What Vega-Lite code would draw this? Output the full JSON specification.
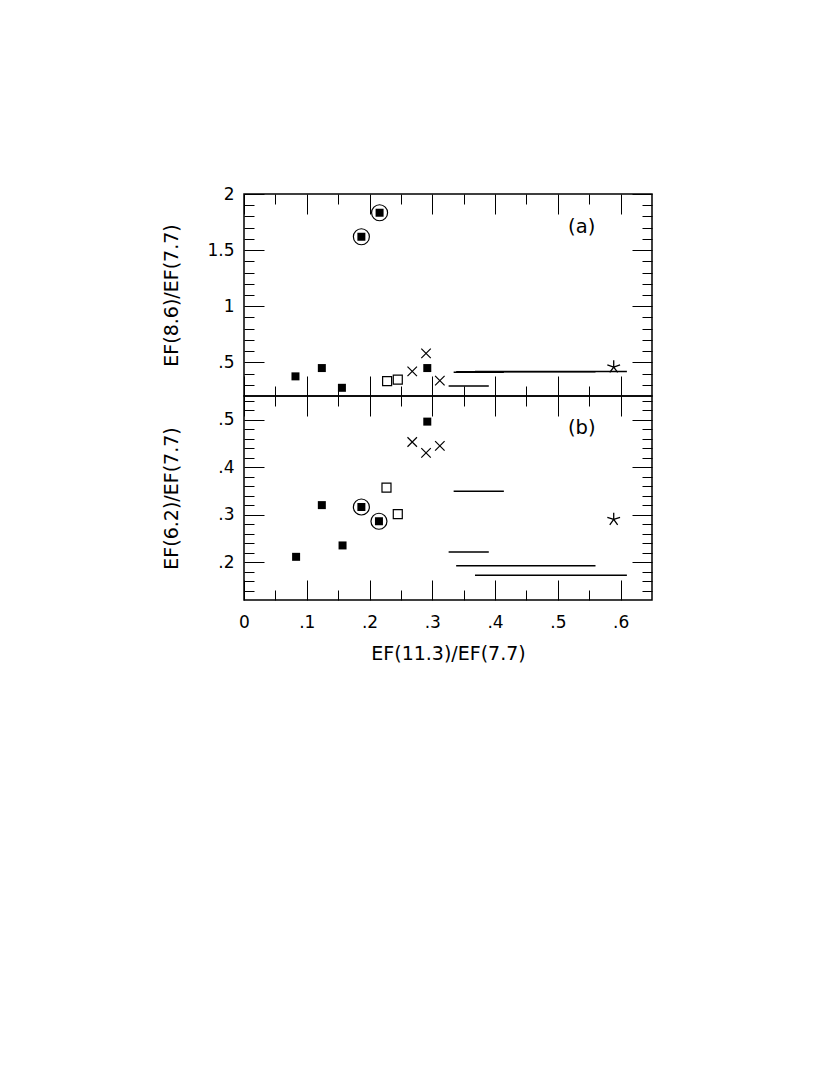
{
  "$schema": "https://vega.github.io/schema/vega-lite/v6.json",
  "padding": {"left": 161, "top": 184, "right": 5, "bottom": 5},
  "spacing": 0,
  "bounds": "flush",
  "datasets": {
    "pa": [
      {"kind": "filled", "x": 0.082, "y": 0.375},
      {"kind": "filled", "x": 0.124, "y": 0.449},
      {"kind": "filled", "x": 0.156, "y": 0.273},
      {"kind": "filled", "x": 0.292, "y": 0.449},
      {"kind": "circled", "x": 0.187, "y": 1.619},
      {"kind": "circled", "x": 0.216, "y": 1.833},
      {"kind": "open", "x": 0.228, "y": 0.333},
      {"kind": "open", "x": 0.245, "y": 0.346},
      {"kind": "cross", "x": 0.268, "y": 0.42},
      {"kind": "cross", "x": 0.29, "y": 0.58},
      {"kind": "cross", "x": 0.312, "y": 0.337},
      {"kind": "star", "x": 0.589, "y": 0.458},
      {"kind": "label", "x": 0.538, "y": 1.71, "text": "(a)"}
    ],
    "pb": [
      {"kind": "filled", "x": 0.083, "y": 0.211},
      {"kind": "filled", "x": 0.124, "y": 0.32},
      {"kind": "filled", "x": 0.157, "y": 0.235},
      {"kind": "filled", "x": 0.292, "y": 0.496},
      {"kind": "circled", "x": 0.187, "y": 0.316},
      {"kind": "circled", "x": 0.215, "y": 0.286},
      {"kind": "open", "x": 0.227, "y": 0.357},
      {"kind": "open", "x": 0.245, "y": 0.301},
      {"kind": "cross", "x": 0.268, "y": 0.453},
      {"kind": "cross", "x": 0.29, "y": 0.43},
      {"kind": "cross", "x": 0.312, "y": 0.445},
      {"kind": "star", "x": 0.589, "y": 0.29},
      {"kind": "label", "x": 0.538, "y": 0.483, "text": "(b)"}
    ],
    "la": [
      {"x1": 0.334, "x2": 0.414, "y": 0.412},
      {"x1": 0.326, "x2": 0.39, "y": 0.288},
      {"x1": 0.338, "x2": 0.56, "y": 0.415},
      {"x1": 0.368, "x2": 0.61, "y": 0.419}
    ],
    "lb": [
      {"x1": 0.334, "x2": 0.414, "y": 0.349},
      {"x1": 0.326, "x2": 0.39, "y": 0.221},
      {"x1": 0.338, "x2": 0.56, "y": 0.192},
      {"x1": 0.368, "x2": 0.61, "y": 0.172}
    ]
  },
  "vconcat": [
    {
      "width": 408,
      "height": 202,
      "resolve": {"axis": {"x": "independent", "y": "independent"}},
      "layer": [
        {
          "data": {"name": "la"},
          "mark": {"type": "rule", "color": "black", "strokeWidth": 1.5},
          "encoding": {
            "x": {"field": "x1", "type": "quantitative", "scale": {"domain": [0, 0.65], "nice": false, "zero": false},
                  "axis": {"orient": "bottom", "values": [0, 0.1, 0.2, 0.3, 0.4, 0.5, 0.6], "tickSize": -20, "labels": false, "title": null}},
            "x2": {"field": "x2"},
            "y": {"field": "y", "type": "quantitative", "scale": {"domain": [0.2, 2], "nice": false, "zero": false},
                  "axis": {"orient": "left", "values": [0.5, 1, 1.5, 2], "ticks": false, "labelPadding": 10,
                           "labelExpr": "replace(format(datum.value, '~g'), '0.', '.')",
                           "title": "EF(8.6)/EF(7.7)", "titleX": -67, "titleBaseline": "alphabetic"}}
          }
        },
        {
          "data": {"name": "pa"},
          "transform": [{"filter": {"field": "kind", "oneOf": ["filled", "circled"]}}],
          "mark": {"type": "point", "shape": "square", "size": 64, "filled": true, "color": "black", "opacity": 1, "strokeWidth": 0},
          "encoding": {
            "x": {"field": "x", "type": "quantitative", "scale": {"domain": [0, 0.65], "nice": false, "zero": false},
                  "axis": {"orient": "bottom", "values": [0.05, 0.15, 0.25, 0.35, 0.45, 0.55], "tickSize": -10, "labels": false, "title": null}},
            "y": {"field": "y", "type": "quantitative", "scale": {"domain": [0.2, 2], "nice": false, "zero": false},
                  "axis": {"orient": "left", "values": [0.5, 1, 1.5, 2], "tickSize": -20, "labels": false, "title": null}}
          }
        },
        {
          "data": {"name": "pa"},
          "transform": [{"filter": {"field": "kind", "equal": "open"}}],
          "mark": {"type": "point", "shape": "square", "size": 81, "filled": false, "color": "black", "opacity": 1, "strokeWidth": 1.2},
          "encoding": {
            "x": {"field": "x", "type": "quantitative", "scale": {"domain": [0, 0.65], "nice": false, "zero": false},
                  "axis": {"orient": "top", "values": [0, 0.1, 0.2, 0.3, 0.4, 0.5, 0.6], "tickSize": -20, "labels": false, "title": null}},
            "y": {"field": "y", "type": "quantitative", "scale": {"domain": [0.2, 2], "nice": false, "zero": false},
                  "axis": {"orient": "left", "values": [0.3, 0.4, 0.6, 0.7, 0.8, 0.9, 1.1, 1.2, 1.3, 1.4, 1.6, 1.7, 1.8, 1.9], "tickSize": -10, "labels": false, "title": null}}
          }
        },
        {
          "data": {"name": "pa"},
          "transform": [{"filter": {"field": "kind", "equal": "circled"}}],
          "mark": {"type": "point", "shape": "circle", "size": 256, "filled": false, "color": "black", "opacity": 1, "strokeWidth": 1.2},
          "encoding": {
            "x": {"field": "x", "type": "quantitative", "scale": {"domain": [0, 0.65], "nice": false, "zero": false},
                  "axis": {"orient": "top", "values": [0.05, 0.15, 0.25, 0.35, 0.45, 0.55], "tickSize": -10, "labels": false, "title": null}},
            "y": {"field": "y", "type": "quantitative", "scale": {"domain": [0.2, 2], "nice": false, "zero": false},
                  "axis": {"orient": "right", "values": [0.5, 1, 1.5, 2], "tickSize": -20, "labels": false, "title": null}}
          }
        },
        {
          "data": {"name": "pa"},
          "transform": [{"filter": {"field": "kind", "equal": "cross"}}],
          "mark": {"type": "point", "shape": "M -1 -1 L 1 1 M 1 -1 L -1 1", "size": 90, "filled": false, "color": "black", "opacity": 1, "strokeWidth": 1.2},
          "encoding": {
            "x": {"field": "x", "type": "quantitative", "scale": {"domain": [0, 0.65], "nice": false, "zero": false}, "axis": null},
            "y": {"field": "y", "type": "quantitative", "scale": {"domain": [0.2, 2], "nice": false, "zero": false},
                  "axis": {"orient": "right", "values": [0.3, 0.4, 0.6, 0.7, 0.8, 0.9, 1.1, 1.2, 1.3, 1.4, 1.6, 1.7, 1.8, 1.9], "tickSize": -10, "labels": false, "title": null}}
          }
        },
        {
          "data": {"name": "pa"},
          "transform": [{"filter": {"field": "kind", "equal": "star"}}],
          "mark": {"type": "point", "shape": "M 0 -1 L 0 0 M 0.951 -0.309 L 0 0 M 0.588 0.809 L 0 0 M -0.588 0.809 L 0 0 M -0.951 -0.309 L 0 0", "size": 180, "filled": false, "color": "black", "opacity": 1, "strokeWidth": 1.3},
          "encoding": {
            "x": {"field": "x", "type": "quantitative", "scale": {"domain": [0, 0.65], "nice": false, "zero": false}, "axis": null},
            "y": {"field": "y", "type": "quantitative", "scale": {"domain": [0.2, 2], "nice": false, "zero": false}, "axis": null}
          }
        },
        {
          "data": {"name": "pa"},
          "transform": [{"filter": {"field": "kind", "equal": "label"}}],
          "mark": {"type": "text", "font": "DejaVu Sans", "fontSize": 19.5, "color": "black", "align": "center", "baseline": "middle"},
          "encoding": {
            "x": {"field": "x", "type": "quantitative", "scale": {"domain": [0, 0.65], "nice": false, "zero": false}, "axis": null},
            "y": {"field": "y", "type": "quantitative", "scale": {"domain": [0.2, 2], "nice": false, "zero": false}, "axis": null},
            "text": {"field": "text"}
          }
        }
      ]
    },
    {
      "width": 408,
      "height": 204,
      "resolve": {"axis": {"x": "independent", "y": "independent"}},
      "layer": [
        {
          "data": {"name": "lb"},
          "mark": {"type": "rule", "color": "black", "strokeWidth": 1.5},
          "encoding": {
            "x": {"field": "x1", "type": "quantitative", "scale": {"domain": [0, 0.65], "nice": false, "zero": false},
                  "axis": {"orient": "bottom", "values": [0, 0.1, 0.2, 0.3, 0.4, 0.5, 0.6], "tickSize": -20, "labels": false, "title": null}},
            "x2": {"field": "x2"},
            "y": {"field": "y", "type": "quantitative", "scale": {"domain": [0.12, 0.55], "nice": false, "zero": false},
                  "axis": {"orient": "left", "values": [0.2, 0.3, 0.4, 0.5], "ticks": false, "labelPadding": 10,
                           "labelExpr": "replace(format(datum.value, '~g'), '0.', '.')",
                           "title": "EF(6.2)/EF(7.7)", "titleX": -67, "titleBaseline": "alphabetic"}}
          }
        },
        {
          "data": {"name": "pb"},
          "transform": [{"filter": {"field": "kind", "oneOf": ["filled", "circled"]}}],
          "mark": {"type": "point", "shape": "square", "size": 64, "filled": true, "color": "black", "opacity": 1, "strokeWidth": 0},
          "encoding": {
            "x": {"field": "x", "type": "quantitative", "scale": {"domain": [0, 0.65], "nice": false, "zero": false},
                  "axis": {"orient": "bottom", "values": [0.05, 0.15, 0.25, 0.35, 0.45, 0.55], "tickSize": -10, "labels": false, "title": null}},
            "y": {"field": "y", "type": "quantitative", "scale": {"domain": [0.12, 0.55], "nice": false, "zero": false},
                  "axis": {"orient": "left", "values": [0.2, 0.3, 0.4, 0.5], "tickSize": -20, "labels": false, "title": null}}
          }
        },
        {
          "data": {"name": "pb"},
          "transform": [{"filter": {"field": "kind", "equal": "open"}}],
          "mark": {"type": "point", "shape": "square", "size": 81, "filled": false, "color": "black", "opacity": 1, "strokeWidth": 1.2},
          "encoding": {
            "x": {"field": "x", "type": "quantitative", "scale": {"domain": [0, 0.65], "nice": false, "zero": false},
                  "axis": {"orient": "top", "values": [0, 0.1, 0.2, 0.3, 0.4, 0.5, 0.6], "tickSize": -20, "labels": false, "title": null}},
            "y": {"field": "y", "type": "quantitative", "scale": {"domain": [0.12, 0.55], "nice": false, "zero": false},
                  "axis": {"orient": "left", "values": [0.14, 0.16, 0.18, 0.22, 0.24, 0.26, 0.28, 0.32, 0.34, 0.36, 0.38, 0.42, 0.44, 0.46, 0.48, 0.52, 0.54], "tickSize": -10, "labels": false, "title": null}}
          }
        },
        {
          "data": {"name": "pb"},
          "transform": [{"filter": {"field": "kind", "equal": "circled"}}],
          "mark": {"type": "point", "shape": "circle", "size": 256, "filled": false, "color": "black", "opacity": 1, "strokeWidth": 1.2},
          "encoding": {
            "x": {"field": "x", "type": "quantitative", "scale": {"domain": [0, 0.65], "nice": false, "zero": false},
                  "axis": {"orient": "top", "values": [0.05, 0.15, 0.25, 0.35, 0.45, 0.55], "tickSize": -10, "labels": false, "title": null}},
            "y": {"field": "y", "type": "quantitative", "scale": {"domain": [0.12, 0.55], "nice": false, "zero": false},
                  "axis": {"orient": "right", "values": [0.2, 0.3, 0.4, 0.5], "tickSize": -20, "labels": false, "title": null}}
          }
        },
        {
          "data": {"name": "pb"},
          "transform": [{"filter": {"field": "kind", "equal": "cross"}}],
          "mark": {"type": "point", "shape": "M -1 -1 L 1 1 M 1 -1 L -1 1", "size": 90, "filled": false, "color": "black", "opacity": 1, "strokeWidth": 1.2},
          "encoding": {
            "x": {"field": "x", "type": "quantitative", "scale": {"domain": [0, 0.65], "nice": false, "zero": false},
                  "axis": {"orient": "bottom", "values": [0, 0.1, 0.2, 0.3, 0.4, 0.5, 0.6], "ticks": false, "labelPadding": 27, "labelBaseline": "alphabetic",
                           "labelExpr": "replace(format(datum.value, '~g'), '0.', '.')",
                           "title": "EF(11.3)/EF(7.7)", "titleY": 59, "titleBaseline": "alphabetic"}},
            "y": {"field": "y", "type": "quantitative", "scale": {"domain": [0.12, 0.55], "nice": false, "zero": false},
                  "axis": {"orient": "right", "values": [0.14, 0.16, 0.18, 0.22, 0.24, 0.26, 0.28, 0.32, 0.34, 0.36, 0.38, 0.42, 0.44, 0.46, 0.48, 0.52, 0.54], "tickSize": -10, "labels": false, "title": null}}
          }
        },
        {
          "data": {"name": "pb"},
          "transform": [{"filter": {"field": "kind", "equal": "star"}}],
          "mark": {"type": "point", "shape": "M 0 -1 L 0 0 M 0.951 -0.309 L 0 0 M 0.588 0.809 L 0 0 M -0.588 0.809 L 0 0 M -0.951 -0.309 L 0 0", "size": 180, "filled": false, "color": "black", "opacity": 1, "strokeWidth": 1.3},
          "encoding": {
            "x": {"field": "x", "type": "quantitative", "scale": {"domain": [0, 0.65], "nice": false, "zero": false}, "axis": null},
            "y": {"field": "y", "type": "quantitative", "scale": {"domain": [0.12, 0.55], "nice": false, "zero": false}, "axis": null}
          }
        },
        {
          "data": {"name": "pb"},
          "transform": [{"filter": {"field": "kind", "equal": "label"}}],
          "mark": {"type": "text", "font": "DejaVu Sans", "fontSize": 19.5, "color": "black", "align": "center", "baseline": "middle"},
          "encoding": {
            "x": {"field": "x", "type": "quantitative", "scale": {"domain": [0, 0.65], "nice": false, "zero": false}, "axis": null},
            "y": {"field": "y", "type": "quantitative", "scale": {"domain": [0.12, 0.55], "nice": false, "zero": false}, "axis": null},
            "text": {"field": "text"}
          }
        }
      ]
    }
  ],
  "config": {
    "view": {"stroke": "black", "strokeWidth": 1.5},
    "axis": {
      "grid": false,
      "domain": false,
      "tickColor": "black",
      "tickWidth": 1,
      "labelFont": "DejaVu Sans",
      "labelFontSize": 17,
      "labelColor": "black",
      "labelFlush": false,
      "labelOverlap": false,
      "titleFont": "DejaVu Sans",
      "titleFontSize": 19,
      "titleFontWeight": "normal",
      "titleColor": "black",
      "minExtent": 0
    }
  }
}
